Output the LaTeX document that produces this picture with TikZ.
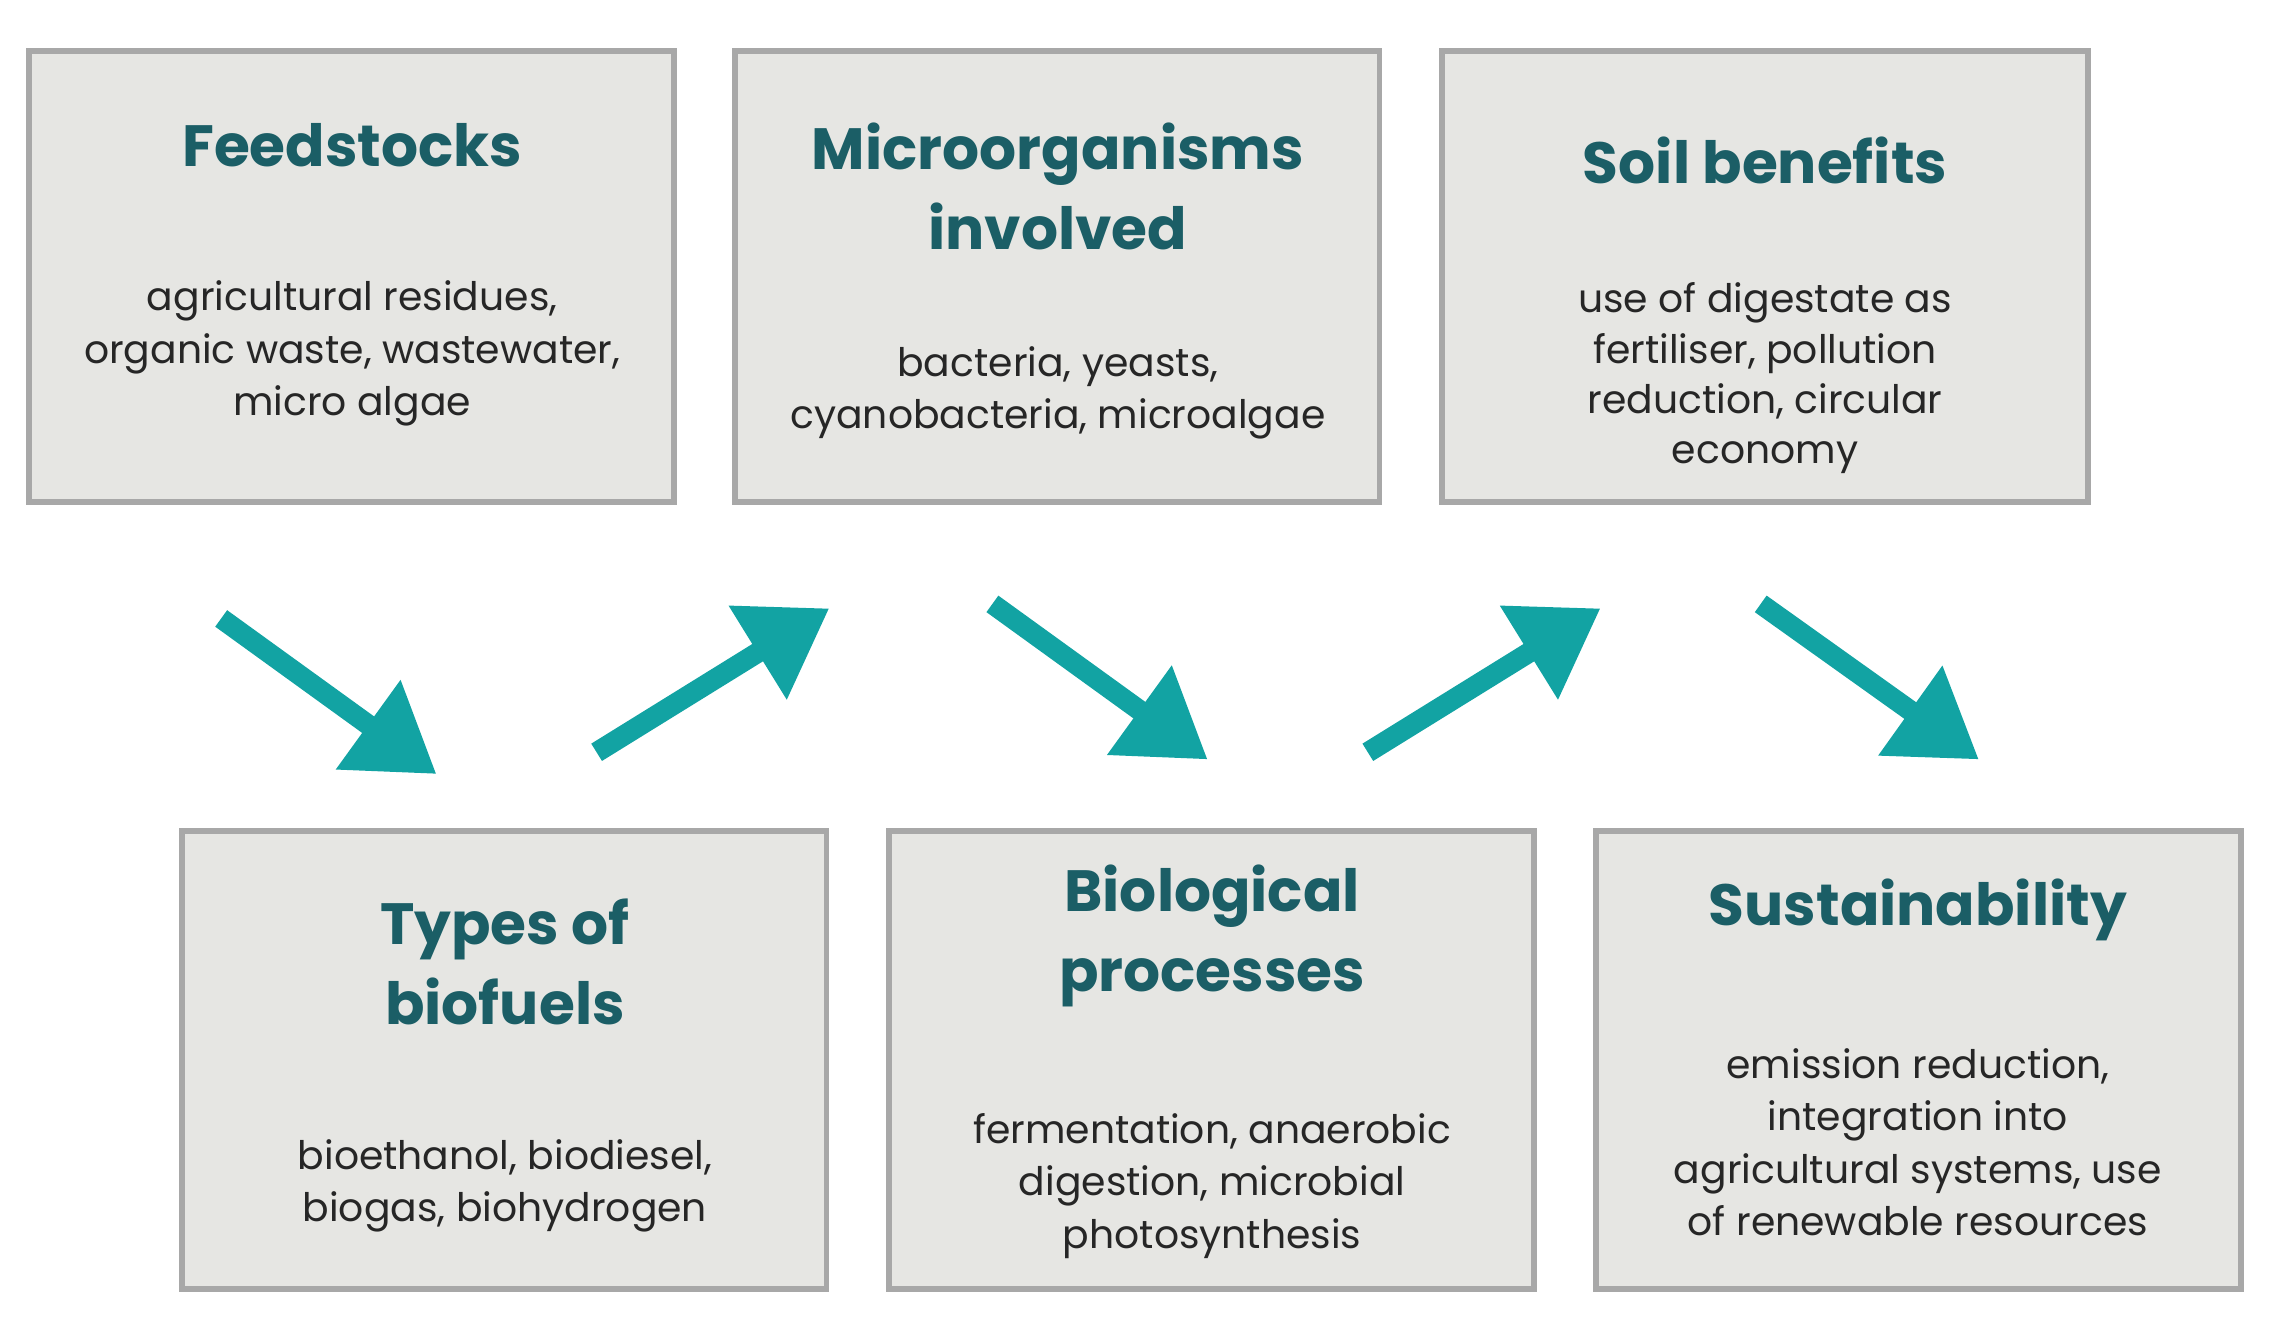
\documentclass[tikz,border=0pt]{standalone}
\usepackage{fontspec}
\setmainfont{Poppins}
\usetikzlibrary{arrows.meta}
\definecolor{boxfill}{HTML}{E6E6E3}
\definecolor{boxline}{HTML}{A8A8A8}
\definecolor{titlec}{HTML}{1B5E66}
\definecolor{arrowc}{HTML}{12A3A3}
\begin{document}
\begin{tikzpicture}[x=1pt,y=-1pt,
  box/.style={draw=boxline,line width=4pt,fill=boxfill},
  ttl/.style={text=titlec,font=\fontsize{40}{55}\selectfont\bfseries,align=center},
  bdy/.style={text=black!85,font=\fontsize{27}{36}\selectfont,align=center},
  fat/.style={draw=arrowc,line width=14pt,-{Triangle[length=58pt,width=72pt]}}]
\useasboundingbox (0,0) rectangle (1560,909);
\draw[box] (20,35) rectangle (463,345) node[midway] (b1) {};
\draw[box] (505,35) rectangle (948,345) node[midway] (b2) {};
\draw[box] (991,35) rectangle (1435,345) node[midway] (b3) {};
\draw[box] (125,571) rectangle (568,886) node[midway] (b4) {};
\draw[box] (611,571) rectangle (1054,886) node[midway] (b5) {};
\draw[box] (1097,571) rectangle (1540,886) node[midway] (b6) {};
\node[ttl] (t1) at (242,100) {Feedstocks};
\node[bdy] (d1) at (242,243) {agricultural residues,\\organic waste, wastewater,\\micro algae};
\node[ttl] (t2) at (727,128) {Microorganisms\\involved};
\node[bdy] (d2) at (727,270) {bacteria, yeasts,\\cyanobacteria, microalgae};
\node[ttl] (t3) at (1213,110) {Soil benefits};
\node[bdy,font=\fontsize{27}{34.5}\selectfont] (d3) at (1213,260) {use of digestate as\\fertiliser, pollution\\reduction, circular\\economy};
\node[ttl] (t4) at (347,661) {Types of\\biofuels};
\node[bdy] (d4) at (347,815) {bioethanol, biodiesel,\\biogas, biohydrogen};
\node[ttl] (t5) at (833,643) {Biological\\processes};
\node[bdy] (d5) at (833,815) {fermentation, anaerobic\\digestion, microbial\\photosynthesis};
\node[ttl] (t6) at (1318,625) {Sustainability};
\node[bdy] (d6) at (1318,785) {emission reduction,\\integration into\\agricultural systems, use\\of renewable resources};
\coordinate (a1s) at (152,425); \coordinate (a1e) at (300,532);
\coordinate (a2s) at (410,517); \coordinate (a2e) at (570,418);
\coordinate (a3s) at (682,415); \coordinate (a3e) at (830,522);
\coordinate (a4s) at (940,517); \coordinate (a4e) at (1100,418);
\coordinate (a5s) at (1210,415); \coordinate (a5e) at (1360,522);
\foreach \a in {1,...,5} \draw[fat] (a\a s) -- (a\a e);
\end{tikzpicture}
\end{document}
